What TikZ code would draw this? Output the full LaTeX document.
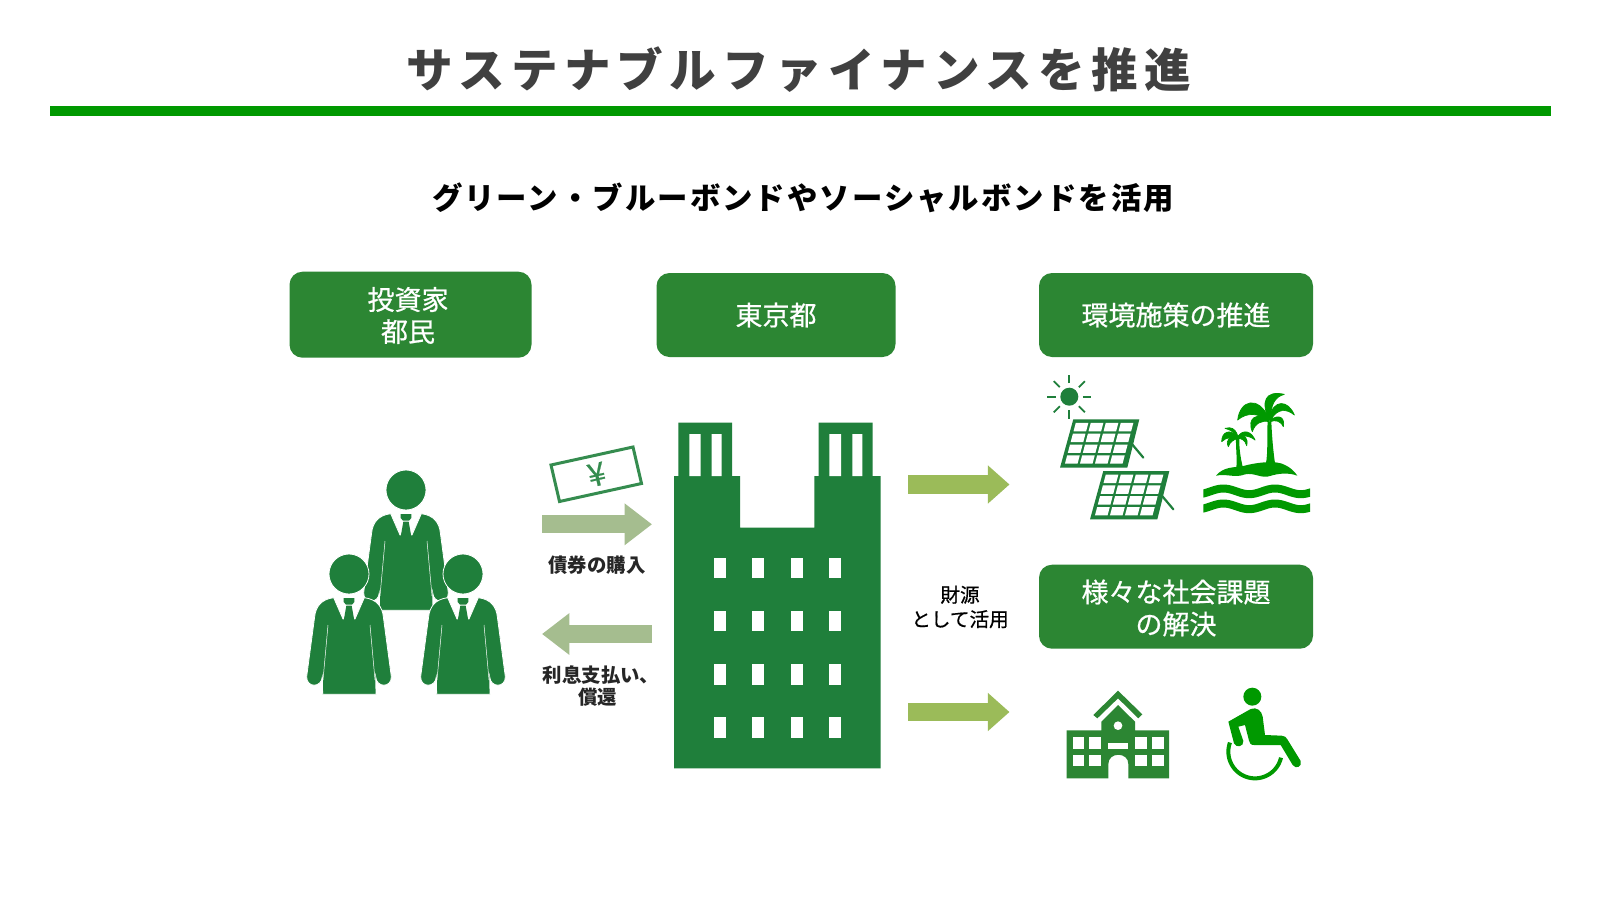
\documentclass[tikz,border=0pt]{standalone}
\usepackage{fontspec}
\usetikzlibrary{arrows.meta}
\setmainfont{Noto Sans CJK JP}
\newfontfamily\titlefont[LetterSpace=13.5]{Noto Sans CJK JP}
\newfontfamily\subfont[LetterSpace=6.7]{Noto Sans CJK JP}
\newfontfamily\bodyfont{Noto Sans CJK JP}
\newfontfamily\midfont[FakeBold=0.6]{Noto Sans CJK JP}
\definecolor{barG}{HTML}{009900}
\definecolor{boxG}{HTML}{2C8633}
\definecolor{figG}{HTML}{1F7F3B}
\definecolor{palG}{HTML}{A5BD8F}
\definecolor{olvG}{HTML}{9BBB59}
\definecolor{ink}{HTML}{404040}
\tikzset{
  zoomunits/.style={x=0.16667pt,y=-0.16667pt},
  headbox/.style={fill=boxG,rounded corners=6.5pt,text=white,align=center,inner sep=0pt,
    font=\midfont\fontsize{13.5}{16}\selectfont},
  boxtext/.style={text=white,align=center,inner sep=0pt,
    font=\midfont\fontsize{13.5}{16}\selectfont},
  smalllabel/.style={align=center,inner sep=0pt,text=black!85,
    font=\bodyfont\bfseries\fontsize{9.7}{11}\selectfont},
  fundlabel/.style={align=center,inner sep=0pt,text=black,
    font=\midfont\fontsize{9.8}{12.2}\selectfont},
  blockpale/.style={line width=9pt,draw=palG,-{Triangle[width=20pt,length=13.7pt,color=palG]}},
  blockolive/.style={line width=9.2pt,draw=olvG,-{Triangle[width=18.4pt,length=10.8pt,color=olvG]}},
  leaf/.style={fill=barG,draw=barG,line width=.35pt,line join=round},
  person/.pic={
    \begin{scope}[zoomunits]
      \filldraw[fill=figG,draw=white,line width=.4pt]
        (-46,71) .. controls (-85,76) and (-100,100) .. (-103,128) -- (-127,308)
        .. controls (-128,342) and (-82,342) .. (-80,308) -- (-79,361) -- (81,361) -- (80,308)
        .. controls (82,342) and (128,342) .. (127,308) -- (103,128)
        .. controls (100,100) and (85,76) .. (46,71) -- (18,135) -- (-18,135) -- cycle;
      \draw[white,line width=.25pt] (-63,153) -- (-78,318) (63,153) -- (78,318);
      \fill[figG] (-16,72) -- (16,72) -- (16,84) -- (9,92) -- (-9,92) -- (-16,84) -- cycle;
      \fill[figG] (-8,95) -- (8,95) -- (16,140) -- (-16,140) -- cycle;
      \filldraw[fill=figG,draw=white,line width=.4pt] (0,0) circle[radius=60];
    \end{scope}
  },
  solarpanel/.pic={
    \fill[figG] (0,0) -- (66,0) -- (54,48.4) -- (-13.3,48.4) -- cycle;
    \begin{scope}[xslant=.265]
      \foreach \c in {0,1,2,3}\foreach \r in {0,1,2,3}
        \fill[white] ({3.4+\c*15},{3.6+\r*10.8}) rectangle ++(12.6,8.4);
    \end{scope}
    \draw[figG,line width=1.1pt,line cap=round] (58,24) -- (70,38.3);
  }
}
\begin{document}
\begin{tikzpicture}[x=0.5pt,y=-0.5pt]
\useasboundingbox (0,0) rectangle (1600,900);
\fill[white] (0,0) rectangle (1600,900);

% headings
\node[inner sep=0pt,text=ink] (title) at (798.5,70) {\titlefont\bfseries\fontsize{23.3}{26}\selectfont サステナブルファイナンスを推進};
\fill[barG] (50,106) rectangle (1551,116);
\node[inner sep=0pt,text=black] (subtitle) at (803,198) {\subfont\bfseries\fontsize{15.2}{18}\selectfont グリーン・ブルーボンドやソーシャルボンドを活用};

% header boxes
\node[headbox,minimum width=121pt,minimum height=43pt] (investors) at (410.5,314.7) {};
\node[boxtext] (investorsT) at (408,315.5) {投資家\\都民};
\node[headbox,minimum width=119.5pt,minimum height=42pt] (tokyo) at (776,315) {東京都};
\node[headbox,minimum width=137pt,minimum height=42pt] (env) at (1176,315) {環境施策の推進};
\node[headbox,minimum width=137pt,minimum height=42pt] (social) at (1176,606.7) {};
\node[boxtext] (socialT) at (1176,608) {様々な社会課題\\の解決};

% people
\pic at (406,490) {person};
\pic at (349,574) {person};
\pic at (463,574) {person};

% banknote and purchase arrows
\draw[figG!90,line width=1.5pt,fill=white] (551,465) -- (633,447) -- (641.5,483.5) -- (559.5,501.5) -- cycle;
\node[inner sep=0pt,rotate=13,text=figG!90] (yen) at (596.7,474.5) {\midfont\fontsize{16}{16}\selectfont ¥};
\coordinate (buyS) at (542,524.3);
\coordinate (buyE) at (652,524.3);
\draw[blockpale] (buyS) -- (buyE);
\node[smalllabel] (buy) at (597,565) {債券の購入};
\coordinate (payS) at (652,634);
\coordinate (payE) at (542,634);
\draw[blockpale] (payS) -- (payE);
\node[smalllabel] (pay) at (597.5,686) {\hspace*{3.5pt}利息支払い、\\償還};

% building
\fill[figG] (674,768.3) -- (674,476) -- (678.3,476) -- (678.3,422.7) -- (732,422.7) -- (732,476) -- (740,476)
  -- (740,527.7) -- (814.3,527.7) -- (814.3,476) -- (818.7,476) -- (818.7,422.7) -- (872.7,422.7) -- (872.7,476)
  -- (880.7,476) -- (880.7,768.3) -- cycle;
\fill[white] (689.3,434) rectangle (700.7,476) (711.7,434) rectangle (721.7,476)
  (829.3,434) rectangle (841,476) (852.3,434) rectangle (862.3,476);
\foreach \wx in {714,752.3,790.5,828.5}
  \foreach \wy/\wh in {557.7/20,611/20,664/21,717.3/21}
    \fill[white] (\wx,\wy) rectangle ++(12,\wh);

% funding arrows
\coordinate (envS) at (908,484.5);
\coordinate (envE) at (1009.5,484.5);
\draw[blockolive] (envS) -- (envE);
\coordinate (socS) at (908,712);
\coordinate (socE) at (1009.5,712);
\draw[blockolive] (socS) -- (socE);
\node[fundlabel] (fund) at (960,607) {財源\\として活用};

% sun
\fill[figG] (1069.3,396.7) circle[radius=9];
\foreach \a in {0,45,...,315}
  \draw[figG,line width=.9pt] (1069.3,396.7) ++(\a:13.5) -- ++(\a:8.5);

% solar panels
\pic at (1073.3,419.3) {solarpanel};
\pic at (1103.3,471) {solarpanel};

% island
\begin{scope}[shift={(1200,385)},zoomunits]
  \fill[barG] (48,272) .. controls (70,245) and (100,248) .. (130,243) .. controls (170,232) and (230,225) .. (255,240)
    .. controls (270,247) and (283,258) .. (292,272) .. controls (265,262) and (235,265) .. (210,273)
    .. controls (185,282) and (165,262) .. (135,268) .. controls (105,280) and (80,265) .. (48,272) -- cycle;
  \fill[barG] (197,240) .. controls (205,200) and (200,150) .. (203,110) -- (214,110) .. controls (216,160) and (220,200) .. (225,235) -- cycle;
  \fill[barG] (109,247) .. controls (112,220) and (107,190) .. (108,160) -- (118,160) .. controls (117,190) and (122,220) .. (128,245) -- cycle;
  \path[leaf] (207,105) .. controls (182,50) and (195,15) .. (253,28) .. controls (225,35) and (210,60) .. (213,105) -- cycle;
  \path[leaf] (207,100) .. controls (220,40) and (265,45) .. (283,90) .. controls (260,70) and (230,70) .. (213,105) -- cycle;
  \path[leaf] (210,105) .. controls (240,85) and (255,100) .. (250,125) .. controls (240,105) and (225,105) .. (210,110) -- cycle;
  \path[leaf] (207,100) .. controls (175,30) and (120,45) .. (113,105) .. controls (140,82) and (175,82) .. (207,110) -- cycle;
  \path[leaf] (207,105) .. controls (170,80) and (140,100) .. (157,140) .. controls (165,115) and (185,105) .. (207,110) -- cycle;
  \path[leaf] (113,155) .. controls (90,130) and (65,140) .. (65,170) .. controls (80,155) and (100,155) .. (113,160) -- cycle;
  \path[leaf] (113,152) .. controls (105,130) and (95,125) .. (75,130) .. controls (95,135) and (105,145) .. (113,158) -- cycle;
  \path[leaf] (113,155) .. controls (130,130) and (155,140) .. (165,165) .. controls (145,150) and (130,150) .. (113,160) -- cycle;
  \path[leaf] (113,155) .. controls (90,150) and (75,165) .. (85,185) .. controls (90,170) and (100,165) .. (113,160) -- cycle;
  \path[leaf] (113,155) .. controls (135,145) and (145,160) .. (140,182) .. controls (135,165) and (125,160) .. (113,160) -- cycle;
  \begin{scope}
    \clip (10,280) rectangle (330,400);
    \draw[barG,line width=4pt] plot[domain=-10:350,samples=80] (\x,{319-8.5*cos(2.3226*(\x-70))});
    \draw[barG,line width=4pt] plot[domain=-10:350,samples=80] (\x,{364-8.5*cos(2.3226*(\x-70))});
  \end{scope}
\end{scope}

% school
\begin{scope}[shift={(1020,660)},zoomunits]
  \fill[boxG] (294,92) -- (367,163) -- (355,175) -- (294,115) -- (232,175) -- (220,165) -- cycle;
  \fill[boxG] (294,135) -- (345,185) -- (345,211) -- (447,211) -- (447,355) -- (325,355) -- (325,312)
    .. controls (325,275) and (265,275) .. (265,312) -- (265,355) -- (140,355) -- (140,211) -- (244,211) -- (244,185) -- cycle;
  \fill[white] (294,197) circle[radius=13];
  \fill[white] (265,248) rectangle (325,266);
  \foreach \sx/\sw in {158/34,208/36,346/34,397/34}
    \foreach \sy in {232,284}
      \fill[white] (\sx,\sy) rectangle ++(\sw,34);
\end{scope}

% wheelchair
\begin{scope}[shift={(1220,680)},zoomunits]
  \fill[barG] (97,50) circle[radius=27];
  \fill[barG] (25,125) -- (92,87) .. controls (110,80) and (125,92) .. (128,110) -- (135,165) -- (185,167)
    .. controls (195,167) and (198,172) .. (202,178) -- (242,243) .. controls (248,258) and (228,270) .. (218,255)
    -- (182,195) -- (102,195) .. controls (92,195) and (89,190) .. (87,182) -- (75,135) -- (55,140) -- (70,183)
    .. controls (72,200) and (48,205) .. (42,190) -- cycle;
  \draw[barG,line width=2pt] plot[domain=13:200,samples=40] ({105+80*cos(\x)},{215+80*sin(\x)});
\end{scope}
\end{tikzpicture}
\end{document}
